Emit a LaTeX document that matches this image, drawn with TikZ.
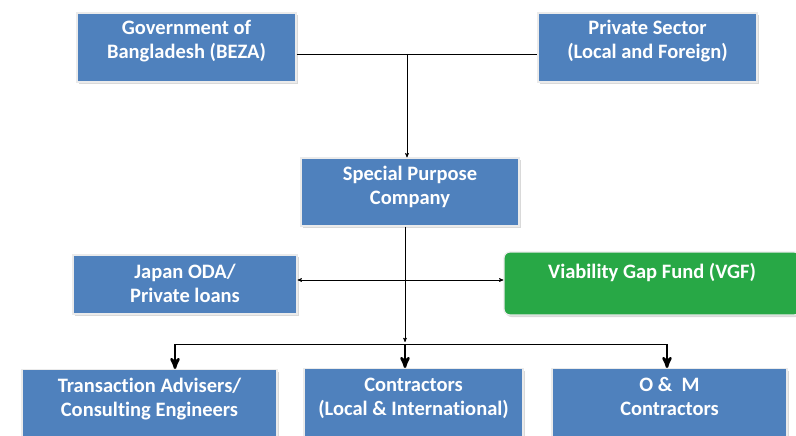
\documentclass[tikz,border=0pt]{standalone}
\usepackage{fontspec}
\setmainfont{Carlito}[Ligatures=NoCommon]
\usetikzlibrary{arrows,shadows}
\definecolor{box_blue}{RGB}{79,129,189}
\definecolor{box_green}{RGB}{40,168,70}
\definecolor{box_rim}{RGB}{235,235,235}

\begin{document}
\begin{tikzpicture}[x=1pt,y=-1pt,semithick,>=stealth']
    \tikzstyle{box}=[draw=box_rim, line width=1.2pt, fill=box_blue, text=white, align=center, inner sep=0pt,
                     font=\fontsize{20.5}{24}\selectfont\bfseries, text height=39pt,
                     drop shadow={shadow xshift=1.5pt, shadow yshift=-2pt, opacity=0.3}]
    \tikzstyle{topbox}=[style=box, minimum width=219, minimum height=69, text depth=16pt]
    \tikzstyle{lowbox}=[style=box, anchor=north, minimum height=80, text depth=25pt]
    \tikzstyle{gbox}=[style=box, fill=box_green, rounded corners=6pt, minimum width=296, minimum height=63,
                      text height=15pt, text depth=26pt]
    \tikzstyle{fat}=[line width=2.6pt, -stealth']

    \useasboundingbox (0,0) rectangle (796,436);

    \node[topbox] (gov)  at (186.5,47.5) {Government of\\Bangladesh (BEZA)};
    \node[topbox] (priv) at (647.5,47.5) {Private Sector\\(Local and Foreign)};
    \node[topbox, minimum width=218, minimum height=68, text depth=15pt] (spc) at (410,192) {Special Purpose\\Company};
    \node[box, minimum width=224, minimum height=59, text depth=4pt] (jica) at (185,284.5) {Japan ODA/\\Private loans};
    \node[gbox] (vgf) at (652,283.5) {Viability Gap Fund (VGF)};

    \node[lowbox, minimum width=255] (tae) at (149.5,369) {Transaction Advisers/\\Consulting Engineers};
    \node[lowbox, minimum width=219] (con) at (413.5,368) {Contractors\\(Local \& International)};
    \node[lowbox, minimum width=235] (omc) at (669.5,368) {O \&\ \ M\\Contractors};

    % joints of the connectors
    \coordinate (top)   at (407,54);
    \coordinate (mid)   at (405,280);
    \coordinate (stop)  at (405,342);
    \coordinate (split) at (405,344);
    \coordinate (s1)    at (175,344);
    \coordinate (s3)    at (667,344);

    \draw (gov.east |- top) -- (priv.west |- top);
    \draw[->] (top) -- (spc.north -| top);
    \draw[->] (spc.south -| stop) -- (stop);
    \draw[<->] (jica.east |- mid) -- (vgf.west |- mid);
    \draw (s1) -- (s3);
    \draw[fat] (s1) -- (s1 |- tae.north);
    \draw[fat] (split) -- (split |- con.north);
    \draw[fat] (s3) -- (s3 |- omc.north);
\end{tikzpicture}
\end{document}
